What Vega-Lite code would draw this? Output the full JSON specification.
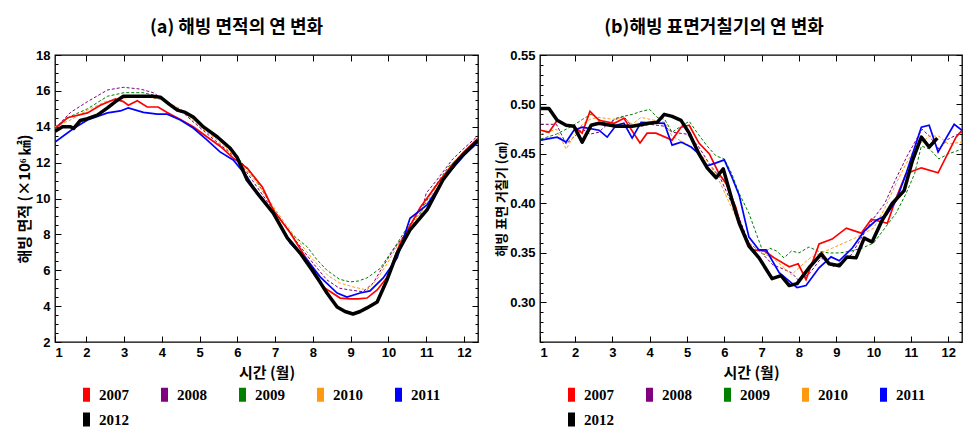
{
  "$schema": "https://vega.github.io/schema/vega-lite/v6.json",
  "background": "white",
  "padding": {"left": 16, "top": 18, "right": 5, "bottom": 5},
  "spacing": 15,
  "config": {
    "view": {"stroke": "#000", "strokeWidth": 1.3},
    "axis": {
      "domain": false, "grid": false,
      "labelFont": "Liberation Sans", "labelFontWeight": "bold", "labelFontSize": 13, "labelColor": "#000",
      "titleFont": "Noto Sans CJK KR", "titleFontWeight": "bold", "titleFontSize": 13, "titleColor": "#000",
      "tickColor": "#000", "tickWidth": 1
    },
    "title": {"font": "Noto Sans CJK KR", "fontWeight": "bold", "fontSize": 18, "color": "#000", "offset": 12},
    "legend": {
      "orient": "none", "direction": "horizontal", "columns": 5, "title": null,
      "labelFont": "Liberation Serif", "labelFontWeight": "bold", "labelFontSize": 15, "labelColor": "#000",
      "symbolSize": 196, "symbolStrokeWidth": 0,
      "labelOffset": 5, "columnPadding": 28, "rowPadding": 9
    }
  },
  "datasets": {
    "area": [
      {"year":"2008","m":1.17,"v":13.9},{"year":"2008","m":1.58,"v":14.8},{"year":"2008","m":2.03,"v":15.4},{"year":"2008","m":2.56,"v":16.05},{"year":"2008","m":2.98,"v":16.2},{"year":"2008","m":3.43,"v":16.1},{"year":"2008","m":3.77,"v":15.9},{"year":"2008","m":4.14,"v":15.4},{"year":"2008","m":4.49,"v":14.93},{"year":"2008","m":4.83,"v":14.27},{"year":"2008","m":5.2,"v":13.6},{"year":"2008","m":5.6,"v":12.9},{"year":"2008","m":6.0,"v":12.2},{"year":"2008","m":6.4,"v":11.0},{"year":"2008","m":6.8,"v":9.8},{"year":"2008","m":7.2,"v":8.7},{"year":"2008","m":7.6,"v":7.5},{"year":"2008","m":8.0,"v":6.4},{"year":"2008","m":8.37,"v":5.46},{"year":"2008","m":8.7,"v":5.0},{"year":"2008","m":8.98,"v":4.9},{"year":"2008","m":9.33,"v":4.8},{"year":"2008","m":9.6,"v":5.3},{"year":"2008","m":9.85,"v":6.2},{"year":"2008","m":10.12,"v":7.1},{"year":"2008","m":10.5,"v":8.2},{"year":"2008","m":10.84,"v":8.97},{"year":"2008","m":11.0,"v":10.3},{"year":"2008","m":11.28,"v":11.03},{"year":"2008","m":11.7,"v":12.2},{"year":"2008","m":12.0,"v":12.8},{"year":"2008","m":12.37,"v":13.5},
      {"year":"2009","m":1.17,"v":14.0},{"year":"2009","m":1.6,"v":14.6},{"year":"2009","m":2.03,"v":15.0},{"year":"2009","m":2.56,"v":15.7},{"year":"2009","m":3.0,"v":15.9},{"year":"2009","m":3.5,"v":15.9},{"year":"2009","m":3.9,"v":15.7},{"year":"2009","m":4.2,"v":15.3},{"year":"2009","m":4.5,"v":14.9},{"year":"2009","m":5.0,"v":14.2},{"year":"2009","m":5.5,"v":13.3},{"year":"2009","m":6.0,"v":12.3},{"year":"2009","m":6.5,"v":11.0},{"year":"2009","m":6.9,"v":9.6},{"year":"2009","m":7.21,"v":8.6},{"year":"2009","m":7.5,"v":7.9},{"year":"2009","m":7.85,"v":7.3},{"year":"2009","m":8.1,"v":6.6},{"year":"2009","m":8.37,"v":6.0},{"year":"2009","m":8.7,"v":5.5},{"year":"2009","m":8.98,"v":5.35},{"year":"2009","m":9.2,"v":5.4},{"year":"2009","m":9.43,"v":5.57},{"year":"2009","m":9.78,"v":6.1},{"year":"2009","m":10.23,"v":7.5},{"year":"2009","m":10.5,"v":8.4},{"year":"2009","m":10.84,"v":9.2},{"year":"2009","m":11.2,"v":10.6},{"year":"2009","m":11.6,"v":11.8},{"year":"2009","m":12.0,"v":12.5},{"year":"2009","m":12.37,"v":13.2},
      {"year":"2010","m":1.17,"v":14.0},{"year":"2010","m":1.6,"v":14.4},{"year":"2010","m":2.0,"v":14.9},{"year":"2010","m":2.5,"v":15.4},{"year":"2010","m":3.0,"v":15.6},{"year":"2010","m":3.5,"v":15.7},{"year":"2010","m":4.0,"v":15.5},{"year":"2010","m":4.5,"v":15.0},{"year":"2010","m":5.0,"v":14.0},{"year":"2010","m":5.5,"v":13.2},{"year":"2010","m":6.0,"v":12.2},{"year":"2010","m":6.5,"v":10.9},{"year":"2010","m":6.9,"v":9.7},{"year":"2010","m":7.3,"v":8.5},{"year":"2010","m":7.7,"v":7.4},{"year":"2010","m":8.0,"v":6.6},{"year":"2010","m":8.4,"v":5.7},{"year":"2010","m":8.7,"v":5.3},{"year":"2010","m":9.06,"v":5.07},{"year":"2010","m":9.43,"v":4.9},{"year":"2010","m":9.7,"v":5.5},{"year":"2010","m":10.0,"v":6.5},{"year":"2010","m":10.3,"v":7.6},{"year":"2010","m":10.6,"v":8.5},{"year":"2010","m":10.9,"v":9.3},{"year":"2010","m":11.3,"v":10.8},{"year":"2010","m":11.7,"v":12.0},{"year":"2010","m":12.0,"v":12.6},{"year":"2010","m":12.37,"v":13.3},
      {"year":"2007","m":1.17,"v":13.9},{"year":"2007","m":1.5,"v":14.5},{"year":"2007","m":2.03,"v":14.77},{"year":"2007","m":2.37,"v":15.2},{"year":"2007","m":2.77,"v":15.55},{"year":"2007","m":2.98,"v":15.4},{"year":"2007","m":3.11,"v":15.2},{"year":"2007","m":3.35,"v":15.45},{"year":"2007","m":3.61,"v":15.1},{"year":"2007","m":3.9,"v":15.1},{"year":"2007","m":4.14,"v":14.8},{"year":"2007","m":4.49,"v":14.4},{"year":"2007","m":4.83,"v":14.0},{"year":"2007","m":5.2,"v":13.43},{"year":"2007","m":5.55,"v":12.9},{"year":"2007","m":5.89,"v":12.25},{"year":"2007","m":6.26,"v":11.7},{"year":"2007","m":6.66,"v":10.64},{"year":"2007","m":6.95,"v":9.36},{"year":"2007","m":7.4,"v":8.08},{"year":"2007","m":7.85,"v":6.57},{"year":"2007","m":8.27,"v":5.07},{"year":"2007","m":8.72,"v":4.45},{"year":"2007","m":8.98,"v":4.4},{"year":"2007","m":9.2,"v":4.4},{"year":"2007","m":9.43,"v":4.45},{"year":"2007","m":9.7,"v":4.9},{"year":"2007","m":9.96,"v":5.6},{"year":"2007","m":10.31,"v":7.5},{"year":"2007","m":10.84,"v":9.5},{"year":"2007","m":11.37,"v":11.03},{"year":"2007","m":11.7,"v":11.9},{"year":"2007","m":12.0,"v":12.6},{"year":"2007","m":12.37,"v":13.35},
      {"year":"2011","m":1.17,"v":13.15},{"year":"2011","m":1.66,"v":13.9},{"year":"2011","m":2.03,"v":14.38},{"year":"2011","m":2.56,"v":14.77},{"year":"2011","m":2.9,"v":14.88},{"year":"2011","m":3.11,"v":15.05},{"year":"2011","m":3.51,"v":14.8},{"year":"2011","m":3.88,"v":14.7},{"year":"2011","m":4.14,"v":14.7},{"year":"2011","m":4.49,"v":14.38},{"year":"2011","m":4.83,"v":13.93},{"year":"2011","m":5.2,"v":13.26},{"year":"2011","m":5.54,"v":12.6},{"year":"2011","m":5.89,"v":12.15},{"year":"2011","m":6.26,"v":11.2},{"year":"2011","m":6.42,"v":10.64},{"year":"2011","m":6.95,"v":9.2},{"year":"2011","m":7.4,"v":7.5},{"year":"2011","m":7.85,"v":6.57},{"year":"2011","m":8.19,"v":5.63},{"year":"2011","m":8.64,"v":4.73},{"year":"2011","m":8.9,"v":4.5},{"year":"2011","m":9.25,"v":4.73},{"year":"2011","m":9.51,"v":4.85},{"year":"2011","m":9.86,"v":5.57},{"year":"2011","m":10.23,"v":6.69},{"year":"2011","m":10.57,"v":8.9},{"year":"2011","m":11.02,"v":9.64},{"year":"2011","m":11.44,"v":11.03},{"year":"2011","m":11.75,"v":11.8},{"year":"2011","m":12.0,"v":12.4},{"year":"2011","m":12.37,"v":13.15},
      {"year":"2012","m":1.17,"v":13.75},{"year":"2012","m":1.37,"v":14.0},{"year":"2012","m":1.58,"v":14.0},{"year":"2012","m":1.66,"v":13.9},{"year":"2012","m":1.84,"v":14.35},{"year":"2012","m":2.03,"v":14.45},{"year":"2012","m":2.29,"v":14.65},{"year":"2012","m":2.56,"v":15.05},{"year":"2012","m":2.77,"v":15.4},{"year":"2012","m":2.98,"v":15.7},{"year":"2012","m":3.2,"v":15.7},{"year":"2012","m":3.5,"v":15.7},{"year":"2012","m":3.75,"v":15.7},{"year":"2012","m":3.96,"v":15.65},{"year":"2012","m":4.2,"v":15.25},{"year":"2012","m":4.41,"v":14.93},{"year":"2012","m":4.62,"v":14.8},{"year":"2012","m":4.83,"v":14.54},{"year":"2012","m":5.1,"v":13.99},{"year":"2012","m":5.47,"v":13.43},{"year":"2012","m":5.81,"v":12.8},{"year":"2012","m":5.99,"v":12.3},{"year":"2012","m":6.26,"v":11.03},{"year":"2012","m":6.6,"v":10.1},{"year":"2012","m":6.95,"v":9.19},{"year":"2012","m":7.32,"v":7.8},{"year":"2012","m":7.66,"v":6.96},{"year":"2012","m":7.98,"v":6.0},{"year":"2012","m":8.2,"v":5.3},{"year":"2012","m":8.37,"v":4.73},{"year":"2012","m":8.64,"v":3.95},{"year":"2012","m":8.85,"v":3.7},{"year":"2012","m":9.06,"v":3.56},{"year":"2012","m":9.25,"v":3.7},{"year":"2012","m":9.43,"v":3.9},{"year":"2012","m":9.7,"v":4.23},{"year":"2012","m":9.96,"v":5.46},{"year":"2012","m":10.23,"v":6.96},{"year":"2012","m":10.57,"v":8.25},{"year":"2012","m":11.02,"v":9.36},{"year":"2012","m":11.44,"v":11.03},{"year":"2012","m":11.75,"v":11.9},{"year":"2012","m":12.0,"v":12.5},{"year":"2012","m":12.37,"v":13.25}
    ],
    "rough": [
      {"year":"2008","m":1.08,"v":0.48},{"year":"2008","m":1.5,"v":0.48},{"year":"2008","m":1.76,"v":0.46},{"year":"2008","m":2.2,"v":0.475},{"year":"2008","m":2.4,"v":0.47},{"year":"2008","m":2.64,"v":0.472},{"year":"2008","m":2.86,"v":0.48},{"year":"2008","m":3.1,"v":0.486},{"year":"2008","m":3.3,"v":0.488},{"year":"2008","m":3.53,"v":0.478},{"year":"2008","m":3.77,"v":0.478},{"year":"2008","m":4.0,"v":0.48},{"year":"2008","m":4.4,"v":0.478},{"year":"2008","m":4.6,"v":0.472},{"year":"2008","m":5.0,"v":0.47},{"year":"2008","m":5.3,"v":0.458},{"year":"2008","m":5.6,"v":0.44},{"year":"2008","m":5.9,"v":0.425},{"year":"2008","m":6.2,"v":0.4},{"year":"2008","m":6.4,"v":0.385},{"year":"2008","m":6.66,"v":0.36},{"year":"2008","m":7.0,"v":0.35},{"year":"2008","m":7.3,"v":0.338},{"year":"2008","m":7.5,"v":0.335},{"year":"2008","m":7.8,"v":0.33},{"year":"2008","m":8.0,"v":0.322},{"year":"2008","m":8.3,"v":0.33},{"year":"2008","m":8.6,"v":0.345},{"year":"2008","m":8.9,"v":0.336},{"year":"2008","m":9.1,"v":0.34},{"year":"2008","m":9.4,"v":0.348},{"year":"2008","m":9.75,"v":0.37},{"year":"2008","m":10.0,"v":0.385},{"year":"2008","m":10.3,"v":0.4},{"year":"2008","m":10.6,"v":0.425},{"year":"2008","m":10.9,"v":0.448},{"year":"2008","m":11.3,"v":0.475},{"year":"2008","m":11.5,"v":0.468},{"year":"2008","m":11.75,"v":0.455},{"year":"2008","m":12.0,"v":0.465},{"year":"2008","m":12.37,"v":0.472},
      {"year":"2009","m":1.08,"v":0.465},{"year":"2009","m":1.5,"v":0.47},{"year":"2009","m":1.76,"v":0.475},{"year":"2009","m":2.0,"v":0.48},{"year":"2009","m":2.2,"v":0.485},{"year":"2009","m":2.43,"v":0.49},{"year":"2009","m":2.64,"v":0.485},{"year":"2009","m":2.86,"v":0.48},{"year":"2009","m":3.1,"v":0.485},{"year":"2009","m":3.3,"v":0.488},{"year":"2009","m":3.53,"v":0.49},{"year":"2009","m":3.77,"v":0.493},{"year":"2009","m":4.0,"v":0.495},{"year":"2009","m":4.2,"v":0.487},{"year":"2009","m":4.4,"v":0.485},{"year":"2009","m":4.6,"v":0.472},{"year":"2009","m":4.84,"v":0.478},{"year":"2009","m":5.06,"v":0.483},{"year":"2009","m":5.3,"v":0.47},{"year":"2009","m":5.54,"v":0.458},{"year":"2009","m":5.78,"v":0.448},{"year":"2009","m":6.0,"v":0.445},{"year":"2009","m":6.2,"v":0.43},{"year":"2009","m":6.4,"v":0.41},{"year":"2009","m":6.66,"v":0.39},{"year":"2009","m":6.9,"v":0.365},{"year":"2009","m":7.07,"v":0.348},{"year":"2009","m":7.2,"v":0.355},{"year":"2009","m":7.4,"v":0.352},{"year":"2009","m":7.6,"v":0.345},{"year":"2009","m":7.8,"v":0.352},{"year":"2009","m":8.0,"v":0.35},{"year":"2009","m":8.27,"v":0.356},{"year":"2009","m":8.5,"v":0.352},{"year":"2009","m":8.8,"v":0.35},{"year":"2009","m":9.1,"v":0.35},{"year":"2009","m":9.4,"v":0.352},{"year":"2009","m":9.7,"v":0.355},{"year":"2009","m":10.0,"v":0.36},{"year":"2009","m":10.3,"v":0.375},{"year":"2009","m":10.6,"v":0.39},{"year":"2009","m":10.87,"v":0.41},{"year":"2009","m":11.1,"v":0.43},{"year":"2009","m":11.28,"v":0.458},{"year":"2009","m":11.5,"v":0.455},{"year":"2009","m":11.75,"v":0.445},{"year":"2009","m":12.0,"v":0.45},{"year":"2009","m":12.37,"v":0.455},
      {"year":"2010","m":1.08,"v":0.47},{"year":"2010","m":1.5,"v":0.475},{"year":"2010","m":1.76,"v":0.455},{"year":"2010","m":2.0,"v":0.47},{"year":"2010","m":2.2,"v":0.48},{"year":"2010","m":2.4,"v":0.485},{"year":"2010","m":2.64,"v":0.487},{"year":"2010","m":3.0,"v":0.485},{"year":"2010","m":3.3,"v":0.487},{"year":"2010","m":3.53,"v":0.48},{"year":"2010","m":3.77,"v":0.487},{"year":"2010","m":4.0,"v":0.485},{"year":"2010","m":4.4,"v":0.482},{"year":"2010","m":4.6,"v":0.468},{"year":"2010","m":5.0,"v":0.46},{"year":"2010","m":5.3,"v":0.452},{"year":"2010","m":5.6,"v":0.44},{"year":"2010","m":5.9,"v":0.42},{"year":"2010","m":6.2,"v":0.395},{"year":"2010","m":6.4,"v":0.38},{"year":"2010","m":6.66,"v":0.36},{"year":"2010","m":7.0,"v":0.35},{"year":"2010","m":7.3,"v":0.345},{"year":"2010","m":7.6,"v":0.335},{"year":"2010","m":7.8,"v":0.328},{"year":"2010","m":8.0,"v":0.335},{"year":"2010","m":8.3,"v":0.345},{"year":"2010","m":8.6,"v":0.35},{"year":"2010","m":8.9,"v":0.355},{"year":"2010","m":9.2,"v":0.36},{"year":"2010","m":9.5,"v":0.365},{"year":"2010","m":9.75,"v":0.37},{"year":"2010","m":10.0,"v":0.375},{"year":"2010","m":10.3,"v":0.395},{"year":"2010","m":10.6,"v":0.42},{"year":"2010","m":10.87,"v":0.44},{"year":"2010","m":11.1,"v":0.455},{"year":"2010","m":11.3,"v":0.462},{"year":"2010","m":11.5,"v":0.468},{"year":"2010","m":11.75,"v":0.468},{"year":"2010","m":12.0,"v":0.46},{"year":"2010","m":12.37,"v":0.462},
      {"year":"2007","m":1.08,"v":0.474},{"year":"2007","m":1.3,"v":0.472},{"year":"2007","m":1.52,"v":0.484},{"year":"2007","m":1.76,"v":0.479},{"year":"2007","m":1.97,"v":0.478},{"year":"2007","m":2.19,"v":0.471},{"year":"2007","m":2.4,"v":0.493},{"year":"2007","m":2.64,"v":0.484},{"year":"2007","m":3.05,"v":0.481},{"year":"2007","m":3.31,"v":0.486},{"year":"2007","m":3.74,"v":0.461},{"year":"2007","m":3.93,"v":0.471},{"year":"2007","m":4.17,"v":0.471},{"year":"2007","m":4.6,"v":0.464},{"year":"2007","m":4.84,"v":0.477},{"year":"2007","m":5.06,"v":0.479},{"year":"2007","m":5.32,"v":0.461},{"year":"2007","m":5.6,"v":0.45},{"year":"2007","m":5.86,"v":0.43},{"year":"2007","m":6.05,"v":0.42},{"year":"2007","m":6.31,"v":0.396},{"year":"2007","m":6.48,"v":0.372},{"year":"2007","m":6.75,"v":0.353},{"year":"2007","m":7.07,"v":0.352},{"year":"2007","m":7.34,"v":0.345},{"year":"2007","m":7.74,"v":0.336},{"year":"2007","m":7.98,"v":0.339},{"year":"2007","m":8.19,"v":0.323},{"year":"2007","m":8.54,"v":0.359},{"year":"2007","m":8.89,"v":0.364},{"year":"2007","m":9.27,"v":0.375},{"year":"2007","m":9.67,"v":0.37},{"year":"2007","m":9.94,"v":0.384},{"year":"2007","m":10.37,"v":0.38},{"year":"2007","m":10.61,"v":0.406},{"year":"2007","m":10.87,"v":0.43},{"year":"2007","m":11.28,"v":0.436},{"year":"2007","m":11.73,"v":0.431},{"year":"2007","m":12.21,"v":0.467},{"year":"2007","m":12.37,"v":0.474},
      {"year":"2011","m":1.08,"v":0.464},{"year":"2011","m":1.52,"v":0.467},{"year":"2011","m":1.76,"v":0.462},{"year":"2011","m":1.97,"v":0.474},{"year":"2011","m":2.19,"v":0.477},{"year":"2011","m":2.64,"v":0.474},{"year":"2011","m":2.86,"v":0.467},{"year":"2011","m":3.1,"v":0.479},{"year":"2011","m":3.31,"v":0.481},{"year":"2011","m":3.53,"v":0.466},{"year":"2011","m":3.77,"v":0.482},{"year":"2011","m":4.39,"v":0.481},{"year":"2011","m":4.6,"v":0.459},{"year":"2011","m":4.84,"v":0.462},{"year":"2011","m":5.11,"v":0.457},{"year":"2011","m":5.32,"v":0.45},{"year":"2011","m":5.54,"v":0.438},{"year":"2011","m":5.78,"v":0.441},{"year":"2011","m":6.0,"v":0.444},{"year":"2011","m":6.21,"v":0.426},{"year":"2011","m":6.4,"v":0.408},{"year":"2011","m":6.66,"v":0.366},{"year":"2011","m":6.93,"v":0.353},{"year":"2011","m":7.12,"v":0.353},{"year":"2011","m":7.47,"v":0.33},{"year":"2011","m":7.95,"v":0.315},{"year":"2011","m":8.19,"v":0.317},{"year":"2011","m":8.54,"v":0.335},{"year":"2011","m":8.86,"v":0.346},{"year":"2011","m":9.08,"v":0.342},{"year":"2011","m":9.43,"v":0.355},{"year":"2011","m":9.75,"v":0.372},{"year":"2011","m":10.07,"v":0.383},{"year":"2011","m":10.34,"v":0.388},{"year":"2011","m":10.61,"v":0.403},{"year":"2011","m":10.87,"v":0.43},{"year":"2011","m":11.28,"v":0.477},{"year":"2011","m":11.49,"v":0.479},{"year":"2011","m":11.73,"v":0.452},{"year":"2011","m":12.16,"v":0.48},{"year":"2011","m":12.37,"v":0.474},
      {"year":"2012","m":1.08,"v":0.496},{"year":"2012","m":1.3,"v":0.496},{"year":"2012","m":1.52,"v":0.484},{"year":"2012","m":1.76,"v":0.479},{"year":"2012","m":1.97,"v":0.478},{"year":"2012","m":2.19,"v":0.462},{"year":"2012","m":2.43,"v":0.479},{"year":"2012","m":2.64,"v":0.481},{"year":"2012","m":3.1,"v":0.478},{"year":"2012","m":3.53,"v":0.478},{"year":"2012","m":3.98,"v":0.481},{"year":"2012","m":4.2,"v":0.482},{"year":"2012","m":4.39,"v":0.49},{"year":"2012","m":4.6,"v":0.488},{"year":"2012","m":4.84,"v":0.484},{"year":"2012","m":5.06,"v":0.471},{"year":"2012","m":5.32,"v":0.45},{"year":"2012","m":5.54,"v":0.436},{"year":"2012","m":5.78,"v":0.426},{"year":"2012","m":5.97,"v":0.435},{"year":"2012","m":6.21,"v":0.403},{"year":"2012","m":6.4,"v":0.38},{"year":"2012","m":6.66,"v":0.357},{"year":"2012","m":6.93,"v":0.345},{"year":"2012","m":7.28,"v":0.324},{"year":"2012","m":7.52,"v":0.327},{"year":"2012","m":7.74,"v":0.317},{"year":"2012","m":7.95,"v":0.319},{"year":"2012","m":8.27,"v":0.335},{"year":"2012","m":8.6,"v":0.349},{"year":"2012","m":8.81,"v":0.339},{"year":"2012","m":9.08,"v":0.337},{"year":"2012","m":9.29,"v":0.346},{"year":"2012","m":9.53,"v":0.345},{"year":"2012","m":9.75,"v":0.365},{"year":"2012","m":9.96,"v":0.361},{"year":"2012","m":10.23,"v":0.383},{"year":"2012","m":10.5,"v":0.4},{"year":"2012","m":10.82,"v":0.413},{"year":"2012","m":11.04,"v":0.443},{"year":"2012","m":11.28,"v":0.467},{"year":"2012","m":11.49,"v":0.457},{"year":"2012","m":11.71,"v":0.466}
    ]
  },
  "hconcat": [
    {
      "width": 423, "height": 287,
      "title": {"text": "(a) 해빙 면적의 연 변화", "dx": -30},
      "data": {"name": "area"},
      "layer": [
        {
          "encoding": {
            "x": {"field": "m", "type": "quantitative", "scale": {"domain": [1.17, 12.37], "nice": false, "zero": false},
              "axis": {"orient": "bottom", "title": "시간 (월)", "titleFontSize": 15, "values": [1.17,2,3,4,5,6,7,8,9,10,11,12], "labelExpr": "datum.value < 1.5 ? '1' : format(datum.value, 'd')", "tickSize": -6, "labelPadding": 10, "titlePadding": 6}},
            "y": {"field": "v", "type": "quantitative", "scale": {"domain": [2, 18], "nice": false, "zero": false},
              "axis": {"orient": "left", "title": "해빙 면적 (×10⁶ ㎢)", "titleFontSize": 15, "values": [2,2.5,3,3.5,4,4.5,5,5.5,6,6.5,7,7.5,8,8.5,9,9.5,10,10.5,11,11.5,12,12.5,13,13.5,14,14.5,15,15.5,16,16.5,17,17.5,18], "labelExpr": "datum.value % 2 === 0 ? format(datum.value, 'd') : ''", "tickSize": {"condition": {"test": "datum.value % 2 === 0", "value": -6}, "value": -3}, "labelPadding": 11, "titlePadding": 3}}
          },
          "layer": [
            {
              "transform": [{"filter": "false"}],
              "mark": {"type": "point", "filled": true, "opacity": 1, "clip": true},
              "encoding": {"color": {"field": "year", "type": "nominal", "scale": {"domain": ["2007","2008","2009","2010","2011","2012"], "range": ["#ff0000","#800080","#008000","#ff9a10","#0000ff","#000000"]}, "legend": {"legendX": 24, "legendY": 332, "symbolType": "M-0.5,-1H0.5V1H-0.5Z", "symbolSize": 196, "symbolOpacity": 1, "symbolStrokeWidth": 0}}}
            },
            {
              "transform": [{"filter": "datum.year === '2008' || datum.year === '2009' || datum.year === '2010'"}],
              "mark": {"type": "line", "clip": true, "strokeWidth": 1, "strokeDash": [3, 2]},
              "encoding": {"color": {"field": "year", "type": "nominal"}}
            },
            {
              "transform": [{"filter": "datum.year === '2007' || datum.year === '2011'"}],
              "mark": {"type": "line", "clip": true, "strokeWidth": 1.7},
              "encoding": {"color": {"field": "year", "type": "nominal"}}
            },
            {
              "transform": [{"filter": "datum.year === '2012'"}],
              "mark": {"type": "line", "clip": true, "strokeWidth": 3.5, "strokeJoin": "round"},
              "encoding": {"color": {"field": "year", "type": "nominal"}}
            }
          ]
        },
        {
          "mark": {"type": "line", "opacity": 0},
          "encoding": {
            "x": {"field": "m", "type": "quantitative", "axis": {"orient": "top", "title": null, "labels": false, "values": [2,3,4,5,6,7,8,9,10,11,12], "tickSize": -6}},
            "y": {"field": "v", "type": "quantitative", "axis": {"orient": "right", "title": null, "labels": false, "values": [2,2.5,3,3.5,4,4.5,5,5.5,6,6.5,7,7.5,8,8.5,9,9.5,10,10.5,11,11.5,12,12.5,13,13.5,14,14.5,15,15.5,16,16.5,17,17.5,18], "tickSize": {"condition": {"test": "datum.value % 2 === 0", "value": -6}, "value": -3}}}
          }
        }
      ],
      "resolve": {"axis": {"x": "independent", "y": "independent"}}
    },
    {
      "width": 422, "height": 287,
      "title": {"text": "(b)해빙 표면거칠기의 연 변화", "dx": -37},
      "data": {"name": "rough"},
      "layer": [
        {
          "encoding": {
            "x": {"field": "m", "type": "quantitative", "scale": {"domain": [1.06, 12.37], "nice": false, "zero": false},
              "axis": {"orient": "bottom", "title": "시간 (월)", "titleFontSize": 15, "values": [1.06,2,3,4,5,6,7,8,9,10,11,12], "labelExpr": "datum.value < 1.5 ? '1' : format(datum.value, 'd')", "tickSize": -6, "labelPadding": 10, "titlePadding": 6}},
            "y": {"field": "v", "type": "quantitative", "scale": {"domain": [0.26, 0.55], "nice": false, "zero": false},
              "axis": {"orient": "left", "title": "해빙 표면 거칠기 (㎝)", "values": [0.26,0.27,0.28,0.29,0.3,0.31,0.32,0.33,0.34,0.35,0.36,0.37,0.38,0.39,0.4,0.41,0.42,0.43,0.44,0.45,0.46,0.47,0.48,0.49,0.5,0.51,0.52,0.53,0.54,0.55], "labelExpr": "round(datum.value*100) % 5 === 0 ? format(datum.value, '.2f') : ''", "tickSize": {"condition": {"test": "round(datum.value*100) % 5 === 0", "value": -6}, "value": -3}, "labelPadding": 11, "titlePadding": 1}}
          },
          "layer": [
            {
              "transform": [{"filter": "false"}],
              "mark": {"type": "point", "filled": true, "opacity": 1, "clip": true},
              "encoding": {"color": {"field": "year", "type": "nominal", "scale": {"domain": ["2007","2008","2009","2010","2011","2012"], "range": ["#ff0000","#800080","#008000","#ff9a10","#0000ff","#000000"]}, "legend": {"legendX": 24, "legendY": 332, "symbolType": "M-0.5,-1H0.5V1H-0.5Z", "symbolSize": 196, "symbolOpacity": 1, "symbolStrokeWidth": 0}}}
            },
            {
              "transform": [{"filter": "datum.year === '2008' || datum.year === '2009' || datum.year === '2010'"}],
              "mark": {"type": "line", "clip": true, "strokeWidth": 1, "strokeDash": [3, 2]},
              "encoding": {"color": {"field": "year", "type": "nominal"}}
            },
            {
              "transform": [{"filter": "datum.year === '2007' || datum.year === '2011'"}],
              "mark": {"type": "line", "clip": true, "strokeWidth": 1.7},
              "encoding": {"color": {"field": "year", "type": "nominal"}}
            },
            {
              "transform": [{"filter": "datum.year === '2012'"}],
              "mark": {"type": "line", "clip": true, "strokeWidth": 3.5, "strokeJoin": "round"},
              "encoding": {"color": {"field": "year", "type": "nominal"}}
            }
          ]
        },
        {
          "mark": {"type": "line", "opacity": 0},
          "encoding": {
            "x": {"field": "m", "type": "quantitative", "axis": {"orient": "top", "title": null, "labels": false, "values": [2,3,4,5,6,7,8,9,10,11,12], "tickSize": -6}},
            "y": {"field": "v", "type": "quantitative", "axis": {"orient": "right", "title": null, "labels": false, "values": [0.26,0.27,0.28,0.29,0.3,0.31,0.32,0.33,0.34,0.35,0.36,0.37,0.38,0.39,0.4,0.41,0.42,0.43,0.44,0.45,0.46,0.47,0.48,0.49,0.5,0.51,0.52,0.53,0.54,0.55], "tickSize": {"condition": {"test": "round(datum.value*100) % 5 === 0", "value": -6}, "value": -3}}}
          }
        }
      ],
      "resolve": {"axis": {"x": "independent", "y": "independent"}}
    }
  ],
  "resolve": {"scale": {"color": "independent"}}
}
